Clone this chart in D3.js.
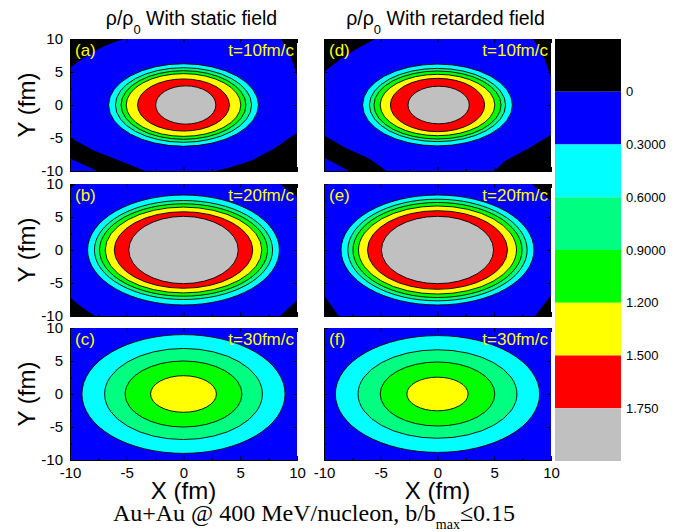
<!DOCTYPE html>
<html>
<head>
<meta charset="utf-8">
<script src="https://cdn.jsdelivr.net/npm/d3@7"></script>
<style>
  body { margin: 0; background: #fff; }
  text { font-family: "Liberation Sans", Arial, sans-serif; }
</style>
</head>
<body>
<svg class="chart" width="691" height="532"></svg>
<script>
// contour levels of rho/rho0 and the colorbar labels
const levels = [0, 0.3, 0.6, 0.9, 1.2, 1.5, 1.75];
const levelLabels = ["0", "0.3000", "0.6000", "0.9000", "1.200", "1.500", "1.750"];
const bandColors = ["#000000", "#0000ff", "#00ffff", "#00ff80", "#00ff00", "#ffff00", "#ff0000", "#c0c0c0"];

const panelLetters = ["a", "b", "c", "d", "e", "f"];
const panelTimes = [10, 20, 30, 10, 20, 30];
const columnTitles = ["With static field", "With retarded field"];
const axisTicks = [-10, -5, 0, 5, 10];
const minorTicks = [-7.5, -2.5, 2.5, 7.5];

// iso-density lines: [level, centre x, semi-axis x, semi-axis y] (fm)
const contoursA = [[0.3, 0, 6.6, 6.25], [0.6, 0, 6.0, 5.65], [0.9, 0, 5.5, 5.2], [1.2, 0, 5.05, 4.75], [1.5, 0, 4.05, 3.95], [1.75, 0.2, 2.65, 2.9]];
const contoursB = [[0.3, 0, 8.45, 8.33], [0.6, 0, 7.85, 7.5], [0.9, 0, 7.4, 7.0], [1.2, 0, 6.9, 6.5], [1.5, 0, 6.1, 5.8], [1.75, 0, 4.82, 5.1]];
const contoursC = [[0.3, 0, 8.95, 9.0], [0.6, 0, 6.95, 6.9], [0.9, 0, 5.15, 5.0], [1.2, 0, 2.9, 2.77]];
const contoursD = [[0.3, 0, 6.6, 6.2], [0.6, 0, 6.0, 5.55], [0.9, 0, 5.6, 5.15], [1.2, 0, 5.05, 4.65], [1.5, 0, 4.15, 4.04], [1.75, 0.1, 2.7, 2.85]];
const contoursE = [[0.3, 0, 8.5, 8.33], [0.6, 0, 7.9, 7.7], [0.9, 0, 7.45, 7.2], [1.2, 0, 6.96, 6.67], [1.5, 0, 6.17, 5.96], [1.75, 0, 4.94, 5.1]];
const contoursF = [[0.3, 0, 9.0, 8.85], [0.6, 0, 7.0, 6.7], [0.9, 0, 5.05, 4.85], [1.2, 0, 2.7, 2.55]];

// regions below the lowest level (black corners), outlines in fm
const lowA = [
  [[-10, 10], [-10, 5.6], [-9, 6.9], [-8, 8.0], [-7, 8.9], [-6, 9.6], [-5.2, 10]],
  [[10, 10], [8.6, 10], [9.3, 8], [10, 4.5]],
  [[-10, -4.9], [-8, -6.8], [-6, -8.2], [-4.5, -9.2], [-3.4, -10], [-7.6, -10], [-8.6, -9.2], [-10, -8.1]],
  [[10, -4.2], [8, -6.6], [6, -8.4], [4, -9.5], [2.8, -10], [10, -10]]
];
const lowB = [
  [[-10, 10], [-10, 9.3], [-9.5, 10]],
  [[10, 10], [8.5, 10], [10, 8.0]],
  [[-10, -10], [-10, -7.2], [-9, -8.6], [-7.8, -10]],
  [[10, -10], [10, -7.6], [8.5, -10]]
];
const lowC = [];
const lowD = [
  [[-10, 10], [-10, 5.0], [-8.5, 7], [-7, 8.6], [-5.5, 10]],
  [[10, 10], [8.4, 10], [9.2, 8], [10, 4.3]],
  [[-10, -4.6], [-8, -6.6], [-6, -8.1], [-4.5, -10], [-7.8, -10], [-10, -8.0]],
  [[10, -4.5], [8, -6.6], [6, -8.4], [5, -10], [10, -10]]
];
const lowE = [
  [[10, 10], [8.3, 10], [10, 7.4]],
  [[-10, -10], [-10, -6.8], [-8.7, -10]],
  [[10, -10], [10, -6.8], [8.6, -10]]
];
const lowF = [];

const allContours = [contoursA, contoursB, contoursC, contoursD, contoursE, contoursF];
const allLows = [lowA, lowB, lowC, lowD, lowE, lowF];

// layout
const colLeft = [70, 324];
const panelW = 227;
const rowTop = [39, 184, 328];
const panelH = 132;
const bar = { x: 555, y: 39, w: 66, h: 422 };

const svg = d3.select("svg.chart");

function translate(x, y) {
  return `translate(${x}, ${y})`;
}

const panels = panelLetters.map((letter, i) => ({
  letter,
  time: panelTimes[i],
  col: Math.floor(i / 3),
  row: i % 3,
  contours: allContours[i],
  lows: allLows[i]
}));

panels.forEach(drawPanel);

function drawPanel(p, i) {
  const x = d3.scaleLinear().domain([-10, 10]).range([0, panelW]);
  const y = d3.scaleLinear().domain([-10, 10]).range([panelH, 0]);

  const g = svg.append("g")
    .attr("class", "panel")
    .attr("transform", translate(colLeft[p.col], rowTop[p.row]));

  g.append("clipPath").attr("id", "clip" + i)
    .append("rect").attr("width", panelW).attr("height", panelH);

  const plot = g.append("g").attr("clip-path", `url(#clip${i})`);

  // band between 0 and 0.3 fills the panel
  plot.append("rect")
    .attr("width", panelW).attr("height", panelH)
    .attr("fill", bandColors[1]);

  const line = d3.line().x(d => x(d[0])).y(d => y(d[1])).curve(d3.curveLinearClosed);
  plot.selectAll("path.low")
    .data(p.lows)
    .join("path")
    .attr("class", "low")
    .attr("d", line)
    .attr("fill", bandColors[0]);

  plot.selectAll("ellipse")
    .data(p.contours)
    .join("ellipse")
    .attr("cx", d => x(d[1]))
    .attr("cy", y(0))
    .attr("rx", d => x(d[2]) - x(0))
    .attr("ry", d => y(0) - y(d[3]))
    .attr("fill", d => bandColors[levels.indexOf(d[0]) + 1])
    .attr("stroke", "#000")
    .attr("stroke-width", 0.9);

  // axes: major + minor inside ticks, plain hyphen for minus
  const fmt = d => String(d);
  const left = d3.axisLeft(y).tickValues(axisTicks).tickFormat(fmt).tickSizeInner(-4).tickSizeOuter(0).tickPadding(7);
  const bottom = d3.axisBottom(x).tickValues(axisTicks).tickFormat(fmt).tickSizeInner(-4).tickSizeOuter(0).tickPadding(7);

  const gl = g.append("g").call(left);
  const gb = g.append("g").attr("transform", translate(0, panelH)).call(bottom);
  g.append("g").call(d3.axisLeft(y).tickValues(minorTicks).tickSize(-2).tickFormat(""));
  g.append("g").attr("transform", translate(0, panelH))
    .call(d3.axisBottom(x).tickValues(minorTicks).tickSize(-2).tickFormat(""));
  g.append("g").attr("transform", translate(panelW, 0))
    .call(d3.axisRight(y).tickValues(axisTicks).tickSize(-4).tickFormat(""))
    .select(".domain").remove();
  g.append("g")
    .call(d3.axisTop(x).tickValues(axisTicks).tickSize(-4).tickFormat(""))
    .select(".domain").remove();

  g.selectAll(".tick line").attr("stroke", "#000");
  g.selectAll(".domain").attr("stroke", "#000");

  gl.selectAll("text").attr("font-size", 15).attr("font-family", "Liberation Sans, Arial, sans-serif");
  gb.selectAll("text").attr("font-size", 15).attr("font-family", "Liberation Sans, Arial, sans-serif");
  if (p.col === 1) gl.selectAll("text").remove();
  if (p.row < 2) gb.selectAll("text").remove();

  // panel letter and time
  g.append("text")
    .attr("x", 5).attr("y", 17)
    .attr("font-size", 17).attr("fill", "#ffff00")
    .text(`(${p.letter})`);
  g.append("text")
    .attr("x", panelW - 3).attr("y", 17)
    .attr("text-anchor", "end")
    .attr("font-size", 17).attr("fill", "#ffff00")
    .text(`t=${p.time}fm/c`);
}

// column titles
columnTitles.forEach((title, c) => {
  const t = svg.append("text")
    .attr("x", colLeft[c] + panelW / 2 + 8).attr("y", 25)
    .attr("text-anchor", "middle")
    .attr("font-size", 19.5);
  t.append("tspan").text("ρ/ρ");
  t.append("tspan").attr("dy", 9).attr("font-size", 13).text("0");
  t.append("tspan").attr("dy", -9).text(" " + title);
});

// axis titles
rowTop.forEach(top => {
  svg.append("text")
    .attr("transform", `translate(35, ${top + panelH / 2}) rotate(-90)`)
    .attr("text-anchor", "middle")
    .attr("font-size", 24)
    .text("Y (fm)");
});
colLeft.forEach(left => {
  svg.append("text")
    .attr("x", left + panelW / 2).attr("y", 499)
    .attr("text-anchor", "middle")
    .attr("font-size", 24)
    .text("X (fm)");
});

// colorbar
const barY = d3.scaleLinear().domain([0, bandColors.length]).range([bar.y, bar.y + bar.h]);
svg.append("g").selectAll("rect")
  .data(bandColors)
  .join("rect")
  .attr("x", bar.x)
  .attr("y", (d, i) => barY(i))
  .attr("width", bar.w)
  .attr("height", (d, i) => barY(i + 1) - barY(i))
  .attr("fill", d => d);
svg.append("g").selectAll("text")
  .data(levelLabels)
  .join("text")
  .attr("x", bar.x + bar.w + 5)
  .attr("y", (d, i) => barY(i + 1))
  .attr("dy", "0.35em")
  .attr("font-size", 13)
  .text(d => d);

// caption
const cap = svg.append("text")
  .attr("x", 314).attr("y", 521)
  .attr("text-anchor", "middle")
  .attr("font-size", 24)
  .style("font-family", "'Liberation Serif', 'Times New Roman', serif");
cap.append("tspan").text("Au+Au @ 400 MeV/nucleon, b/b");
cap.append("tspan").attr("dy", 8).attr("font-size", 14).text("max");
cap.append("tspan").attr("dy", -8).text("≤0.15");
</script>
</body>
</html>
